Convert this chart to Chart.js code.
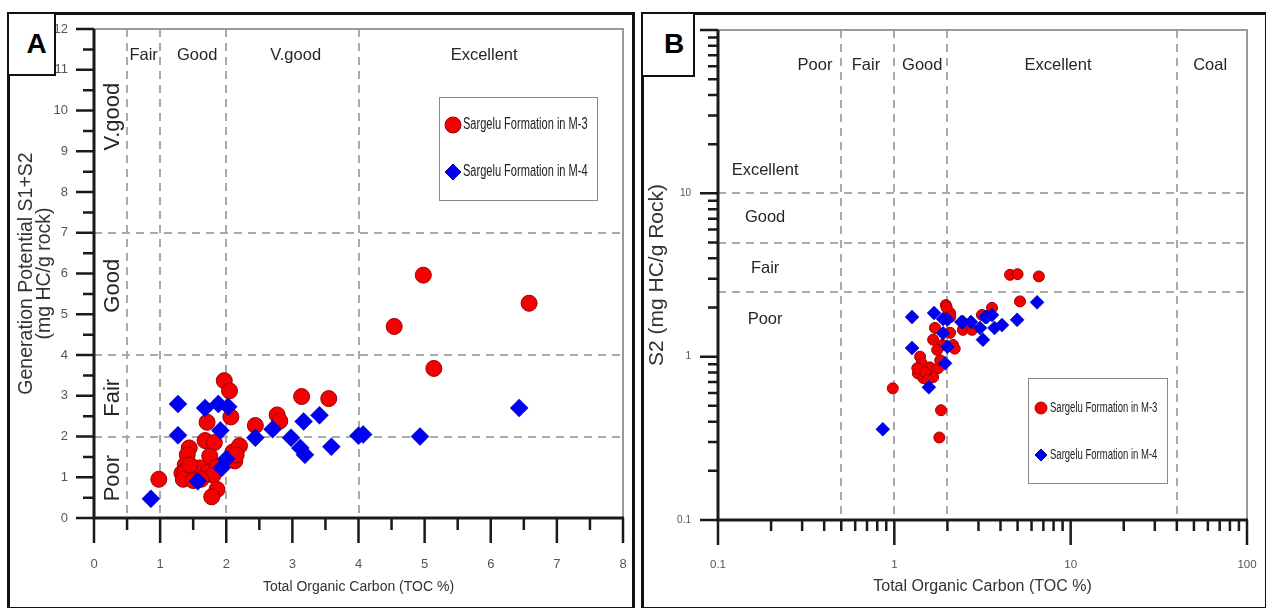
<!DOCTYPE html>
<html>
<head>
<meta charset="utf-8">
<script src="https://cdn.jsdelivr.net/npm/chart.js@4/dist/chart.umd.min.js"></script>
<style>
body { margin: 0; background: #fff; width: 1266px; height: 608px; overflow: hidden; position: relative; font-family: "Liberation Sans", Arial, sans-serif; }
.frame { position: absolute; border: 3px solid #111; box-sizing: border-box; }
#frameA { left: 7px; top: 12px; width: 628px; height: 598px; }
#frameB { left: 641px; top: 12px; width: 627px; height: 598px; }
canvas { position: absolute; top: 0; }
#cA { left: 0; }
#cB { left: 640px; }
.tag { position: absolute; background: #fff; border: 2px solid #111; box-sizing: border-box; font: bold 28px "Liberation Sans", Arial, sans-serif; color: #000; line-height: 60px; text-align: center; }
#tagA { left: 7px; top: 12px; width: 49px; height: 64px; padding-left: 10px; }
#tagB { left: 641px; top: 12px; width: 54px; height: 65px; padding-left: 12px; }
</style>
</head>
<body>
<div class="frame" id="frameA"></div>
<div class="frame" id="frameB"></div>
<canvas id="cA" width="640" height="608"></canvas>
<canvas id="cB" width="626" height="608"></canvas>
<div class="tag" id="tagA">A</div>
<div class="tag" id="tagB">B</div>
<script>
// ---- panel A : TOC vs generation potential (S1+S2) ----
const tocM3A = [0.98,1.97,2.05,2.07,1.71,1.68,1.82,1.44,1.41,1.75,1.38,2.10,2.20,2.13,1.33,1.38,1.48,1.60,1.73,1.86,1.35,1.50,1.80,1.86,1.78,2.44,2.77,2.81,3.14,3.55,4.54,4.98,5.14,6.58,1.62,1.45,2.15];
const gpM3A  = [0.95,3.37,3.12,2.48,2.35,1.90,1.85,1.72,1.55,1.52,1.30,1.62,1.77,1.40,1.10,1.15,1.05,1.23,1.13,1.25,0.95,0.92,1.05,0.70,0.52,2.27,2.53,2.38,2.98,2.93,4.70,5.96,3.67,5.27,0.95,1.30,1.55];
const tocM4A = [0.86,1.27,1.27,1.68,1.88,2.03,1.91,2.00,1.93,1.57,2.44,2.70,2.98,3.17,3.12,3.19,3.41,3.59,4.00,4.07,4.93,6.43];
const gpM4A  = [0.47,2.80,2.03,2.70,2.80,2.73,2.15,1.45,1.23,0.90,1.97,2.18,1.97,2.37,1.72,1.55,2.52,1.75,2.02,2.05,2.00,2.70];

// ---- panel B : TOC vs S2 (log-log) ----
const tocM3B = [0.98,1.84,1.80,1.96,2.07,1.70,1.66,1.87,2.15,2.20,1.40,1.43,1.59,1.77,1.36,1.46,1.66,1.82,1.35,1.98,2.07,2.07,3.58,3.14,2.45,2.76,5.16,4.53,5.00,6.60,1.50,1.75,1.55];
const s2M3B  = [0.64,0.47,0.32,2.07,1.85,1.50,1.27,1.18,1.18,1.12,1.00,0.91,0.86,0.85,0.79,0.74,0.75,0.95,0.85,2.00,1.75,1.40,1.99,1.80,1.46,1.46,2.18,3.17,3.20,3.10,0.80,1.10,0.72];
const tocM4B = [0.86,1.26,1.26,1.68,1.89,2.00,1.89,2.00,1.94,1.57,2.45,2.72,3.06,3.18,3.27,3.58,3.70,4.08,4.97,6.45,2.40,3.35];
const s2M4B  = [0.36,1.75,1.13,1.85,1.70,1.69,1.39,1.15,0.91,0.65,1.63,1.63,1.50,1.27,1.75,1.80,1.50,1.56,1.68,2.15,1.63,1.75];

const seriesNames = ['Sargelu Formation in M-3', 'Sargelu Formation in M-4'];

// classification limits and zone names
const tocLimitsA = [0.5, 1, 2, 4];
const gpLimitsA = [2, 4, 7];
const tocZonesA = ['Fair', 'Good', 'V.good', 'Excellent'];
const gpZonesA = ['V.good', 'Good', 'Fair', 'Poor'];
const tocLimitsB = [0.5, 1, 2, 40];
const s2LimitsB = [2.5, 5, 10];
const tocZonesB = ['Poor', 'Fair', 'Good', 'Excellent', 'Coal'];
const s2ZonesB = ['Excellent', 'Good', 'Fair', 'Poor'];

// tick labels
const xTicksA = [0, 1, 2, 3, 4, 5, 6, 7, 8];
const yTicksA = [0, 1, 2, 3, 4, 5, 6, 7, 8, 9, 10, 11, 12];
const decadeTicks = [0.1, 1, 10, 100];

const pts = (xs, ys) => xs.map((x, i) => ({ x: x, y: ys[i] }));
const halves = (arr) => arr.slice(0, -1).map(v => v + 0.5);
const logMinor = (arr) => {
  const out = [];
  arr.slice(0, -1).forEach(d => { for (let k = 2; k <= 9; k++) out.push(k * d); });
  return out;
};

function decor(o) {
  return {
    id: 'decor',
    beforeDatasetsDraw(chart) {
      const { ctx, chartArea: a, scales: { x, y } } = chart;
      ctx.save();
      ctx.strokeStyle = '#aaaaaa';
      ctx.lineWidth = 2;
      ctx.setLineDash([8, 6]);
      ctx.beginPath();
      o.xLimits.forEach(v => { const p = Math.round(x.getPixelForValue(v)); ctx.moveTo(p, a.top); ctx.lineTo(p, a.bottom); });
      o.yLimits.forEach(v => { const p = Math.round(y.getPixelForValue(v)); ctx.moveTo(a.left, p); ctx.lineTo(a.right, p); });
      ctx.stroke();
      ctx.setLineDash([]);

      ctx.fillStyle = '#262626';
      ctx.textAlign = 'center';
      ctx.textBaseline = 'middle';
      ctx.font = o.zoneFont;
      o.topZones.forEach((t, i) => ctx.fillText(t, x.getPixelForValue(o.topZoneX[i]), y.getPixelForValue(o.topZoneY)));
      ctx.font = o.sideFont;
      o.sideZones.forEach((t, i) => {
        const px = x.getPixelForValue(o.sideZoneX), py = y.getPixelForValue(o.sideZoneY[i]);
        ctx.save();
        ctx.translate(px, py);
        if (o.sideRotate) ctx.rotate(-Math.PI / 2);
        ctx.fillText(t, 0, 0);
        ctx.restore();
      });
      ctx.restore();
    },
    afterDraw(chart) {
      const { ctx, chartArea: a, scales: { x, y } } = chart;
      ctx.save();
      // thin frame top / right
      ctx.strokeStyle = '#9a9a9a';
      ctx.lineWidth = 2;
      ctx.beginPath();
      ctx.moveTo(a.left, a.top); ctx.lineTo(a.right, a.top); ctx.lineTo(a.right, a.bottom);
      ctx.stroke();
      // tick marks
      ctx.strokeStyle = '#1a1a1a';
      ctx.lineWidth = 2.5;
      ctx.beginPath();
      const tx = (vals, len) => vals.forEach(v => { const p = x.getPixelForValue(v); ctx.moveTo(p, a.bottom); ctx.lineTo(p, a.bottom + len); });
      const ty = (vals, len) => vals.forEach(v => { const p = y.getPixelForValue(v); ctx.moveTo(a.left, p); ctx.lineTo(a.left - len, p); });
      tx(o.xMajor, o.xMajorLen); tx(o.xMinor, o.xMinorLen);
      ty(o.yMajor, o.yMajorLen); ty(o.yMinor, o.yMinorLen);
      ctx.stroke();
      // axis lines
      ctx.lineWidth = 3;
      ctx.beginPath();
      ctx.moveTo(a.left, a.top); ctx.lineTo(a.left, a.bottom); ctx.lineTo(a.right + 1, a.bottom);
      ctx.stroke();

      // axis titles
      ctx.fillStyle = '#333';
      ctx.textAlign = 'center';
      ctx.textBaseline = 'middle';
      ctx.font = o.xTitleFont;
      ctx.fillText(o.xTitle, (a.left + a.right) / 2, o.xTitleY);
      ctx.font = o.yTitleFont;
      o.yTitle.forEach((t, i) => {
        ctx.save();
        ctx.translate(o.yTitleX[i], (a.top + a.bottom) / 2);
        ctx.rotate(-Math.PI / 2);
        ctx.fillText(t, 0, 0);
        ctx.restore();
      });

      // legend box
      const L = o.legend;
      ctx.fillStyle = '#fff';
      ctx.fillRect(L.x, L.y, L.w, L.h);
      ctx.strokeStyle = '#8a8a8a';
      ctx.lineWidth = 1;
      ctx.strokeRect(L.x + 0.5, L.y + 0.5, L.w, L.h);
      chart.data.datasets.slice().sort((p, q) => p.legendIndex - q.legendIndex).forEach((ds, i) => {
        const cx = L.x + L.markX, cy = L.y + L.rowY[i], r = L.markR;
        ctx.fillStyle = ds.backgroundColor;
        ctx.strokeStyle = ds.borderColor;
        ctx.lineWidth = 1;
        ctx.beginPath();
        if (ds.pointStyle === 'rectRot') {
          ctx.moveTo(cx, cy - r); ctx.lineTo(cx + r, cy); ctx.lineTo(cx, cy + r); ctx.lineTo(cx - r, cy); ctx.closePath();
        } else {
          ctx.arc(cx, cy, r, 0, Math.PI * 2);
        }
        ctx.fill(); ctx.stroke();
        ctx.save();
        ctx.fillStyle = '#222';
        ctx.textAlign = 'left';
        ctx.font = L.font;
        ctx.translate(L.x + L.textX, cy);
        ctx.scale(L.squeeze, 1);
        ctx.fillText(ds.label, 0, 0);
        ctx.restore();
      });
      ctx.restore();
    }
  };
}

// invisible tick marks only push the labels away from the axes
const hiddenGrid = (len) => ({ display: true, drawOnChartArea: false, drawTicks: true, tickLength: len,
  color: 'rgba(0,0,0,0)', tickColor: 'rgba(0,0,0,0)' });

function makeChart(id, cfg) {
  return new Chart(document.getElementById(id), {
    type: 'scatter',
    data: {
      datasets: [
        { label: seriesNames[0], data: pts(cfg.m3x, cfg.m3y), order: 1, legendIndex: 0,
          pointStyle: 'circle', pointRadius: cfg.dotR, pointHoverRadius: cfg.dotR,
          backgroundColor: '#f40000', borderColor: '#9c0000', borderWidth: 1 },
        { label: seriesNames[1], data: pts(cfg.m4x, cfg.m4y), order: 0, legendIndex: 1,
          pointStyle: 'rectRot', pointRadius: cfg.diaR, pointHoverRadius: cfg.diaR,
          backgroundColor: '#0000f2', borderColor: '#0000a8', borderWidth: 0.5 }
      ]
    },
    options: {
      responsive: false,
      animation: false,
      devicePixelRatio: 1,
      layout: { padding: cfg.padding },
      plugins: { legend: { display: false }, tooltip: { enabled: false } },
      scales: {
        x: {
          type: cfg.type, min: cfg.xMin, max: cfg.xMax,
          grid: hiddenGrid(cfg.xTickGap),
          border: { display: false },
          afterBuildTicks: s => { s.ticks = cfg.xTicks.map(v => ({ value: v })); },
          afterFit: s => { s.height = cfg.xAxisH; },
          ticks: { autoSkip: false, maxRotation: 0, padding: 3, color: '#555',
            font: { family: 'Liberation Sans', size: cfg.xTickSize }, callback: v => String(v) }
        },
        y: {
          type: cfg.type, min: cfg.yMin, max: cfg.yMax,
          grid: hiddenGrid(cfg.yTickGap),
          border: { display: false },
          afterBuildTicks: s => { s.ticks = cfg.yTicks.map(v => ({ value: v })); },
          afterFit: s => { s.width = cfg.yAxisW; },
          ticks: { autoSkip: false, padding: 3, color: '#555',
            font: { family: 'Liberation Sans', size: cfg.yTickSize }, callback: v => String(v) }
        }
      }
    },
    plugins: [decor(cfg.decor)]
  });
}

makeChart('cA', {
  type: 'linear', xMin: 0, xMax: 8, yMin: 0, yMax: 12,
  m3x: tocM3A, m3y: gpM3A, m4x: tocM4A, m4y: gpM4A,
  dotR: 8, diaR: 9,
  padding: { left: 0, top: 29, right: 17, bottom: 0 },
  xAxisH: 90, yAxisW: 94,
  xTicks: xTicksA, yTicks: yTicksA,
  xTickGap: 36, yTickGap: 23, xTickSize: 13, yTickSize: 13,
  decor: {
    xLimits: tocLimitsA, yLimits: gpLimitsA,
    topZones: tocZonesA, topZoneX: [0.75, 1.56, 3.05, 5.9], topZoneY: 11.35,
    sideZones: gpZonesA, sideZoneX: 0.28, sideZoneY: [9.85, 5.7, 2.95, 0.98], sideRotate: true,
    zoneFont: '16.5px "Liberation Sans"', sideFont: '22px "Liberation Sans"',
    xMajor: xTicksA, xMinor: halves(xTicksA), xMajorLen: 25, xMinorLen: 12,
    yMajor: yTicksA, yMinor: halves(yTicksA), yMajorLen: 18, yMinorLen: 11,
    xTitle: 'Total Organic Carbon (TOC %)', xTitleY: 587, xTitleFont: '14px "Liberation Sans"',
    yTitle: ['Generation Potential S1+S2', '(mg HC/g rock)'], yTitleX: [27, 45], yTitleFont: '19.5px "Liberation Sans"',
    legend: { x: 439, y: 97, w: 158, h: 103, markX: 14, markR: 8, rowY: [28, 75], textX: 24,
      font: '16px "Liberation Sans"', squeeze: 0.69 }
  }
});

makeChart('cB', {
  type: 'logarithmic', xMin: 0.1, xMax: 100, yMin: 0.1, yMax: 100,
  m3x: tocM3B, m3y: s2M3B, m4x: tocM4B, m4y: s2M4B,
  dotR: 5.5, diaR: 7,
  padding: { left: 0, top: 30, right: 19, bottom: 0 },
  xAxisH: 88, yAxisW: 78,
  xTicks: decadeTicks, yTicks: decadeTicks,
  xTickGap: 35, yTickGap: 24, xTickSize: 11.5, yTickSize: 10,
  decor: {
    xLimits: tocLimitsB, yLimits: s2LimitsB,
    topZones: tocZonesB, topZoneX: [0.355, 0.69, 1.44, 8.48, 61.8], topZoneY: 61,
    sideZones: s2ZonesB, sideZoneX: 0.185, sideZoneY: [13.9, 7.07, 3.49, 1.68], sideRotate: false,
    zoneFont: '16.5px "Liberation Sans"', sideFont: '16.5px "Liberation Sans"',
    xMajor: decadeTicks, xMinor: logMinor(decadeTicks), xMajorLen: 25, xMinorLen: 11,
    yMajor: decadeTicks, yMinor: logMinor(decadeTicks), yMajorLen: 18, yMinorLen: 10,
    xTitle: 'Total Organic Carbon (TOC %)', xTitleY: 587, xTitleFont: '16px "Liberation Sans"',
    yTitle: ['S2 (mg HC/g Rock)'], yTitleX: [17], yTitleFont: '21px "Liberation Sans"',
    legend: { x: 388, y: 378, w: 139, h: 105, markX: 13, markR: 6, rowY: [30, 77], textX: 22,
      font: '14px "Liberation Sans"', squeeze: 0.68 }
  }
});
</script>
</body>
</html>
